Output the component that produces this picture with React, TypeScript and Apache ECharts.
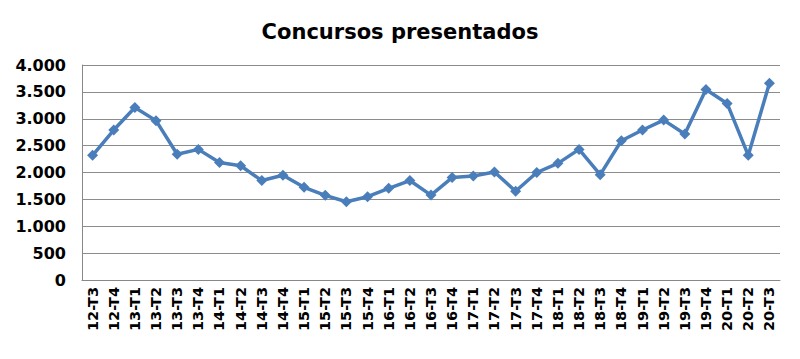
import React, { useEffect, useRef } from "react";
import * as echarts from "echarts";

const title = "Concursos presentados";
const categories = [
  "12-T3", "12-T4", "13-T1", "13-T2", "13-T3", "13-T4", "14-T1", "14-T2", "14-T3", "14-T4",
  "15-T1", "15-T2", "15-T3", "15-T4", "16-T1", "16-T2", "16-T3", "16-T4", "17-T1", "17-T2",
  "17-T3", "17-T4", "18-T1", "18-T2", "18-T3", "18-T4", "19-T1", "19-T2", "19-T3", "19-T4",
  "20-T1", "20-T2", "20-T3",
];
const values = [
  2320, 2790, 3210, 2965, 2340, 2430, 2185, 2125, 1850, 1950,
  1725, 1575, 1455, 1550, 1705, 1850, 1580, 1905, 1935, 2010,
  1650, 2000, 2170, 2430, 1960, 2590, 2790, 2975, 2715, 3545,
  3285, 2320, 3660,
];
const yTicks = { min: 0, max: 4000, interval: 500 };

const fmt = (v: number) => {
  const s = String(Math.round(v));
  return s.replace(/\B(?=(\d{3})+(?!\d))/g, ".");
};

export default function App() {
  const ref = useRef<HTMLDivElement>(null);
  useEffect(() => {
    if (!ref.current) return;
    const chart = echarts.init(ref.current, null, { renderer: "svg" });
    const font = "DejaVu Sans, Verdana, sans-serif";
    chart.setOption({
      animation: false,
      backgroundColor: "#ffffff",
      title: {
        text: title,
        left: "center",
        top: 16,
        textStyle: { fontFamily: font, fontWeight: "bold", fontSize: 21, color: "#000" },
      },
      grid: { left: 82, right: 20, top: 65, bottom: 79, containLabel: false },
      xAxis: {
        type: "category",
        data: categories,
        boundaryGap: true,
        axisLine: { show: true, lineStyle: { color: "#888", width: 1 } },
        axisTick: { show: false },
        axisLabel: {
          interval: 0,
          rotate: 90,
          fontFamily: font,
          fontWeight: "bold",
          fontSize: 14.5,
          color: "#000",
          margin: 7,
        },
      },
      yAxis: {
        type: "value",
        min: yTicks.min,
        max: yTicks.max,
        interval: yTicks.interval,
        axisLine: { show: true, lineStyle: { color: "#888", width: 1 } },
        axisTick: { show: false },
        splitLine: { lineStyle: { color: "#8c8c8c", width: 1 } },
        axisLabel: {
          formatter: fmt,
          fontFamily: font,
          fontWeight: "bold",
          fontSize: 16,
          color: "#000",
          margin: 16,
        },
      },
      series: [
        {
          type: "line",
          data: values,
          symbol: "diamond",
          symbolSize: 11,
          itemStyle: { color: "#4a7ebb" },
          lineStyle: { color: "#4a7ebb", width: 3.5 },
        },
      ],
    });
    return () => chart.dispose();
  }, []);
  return <div ref={ref} style={{ width: 800, height: 359, margin: -8 }} />;
}
